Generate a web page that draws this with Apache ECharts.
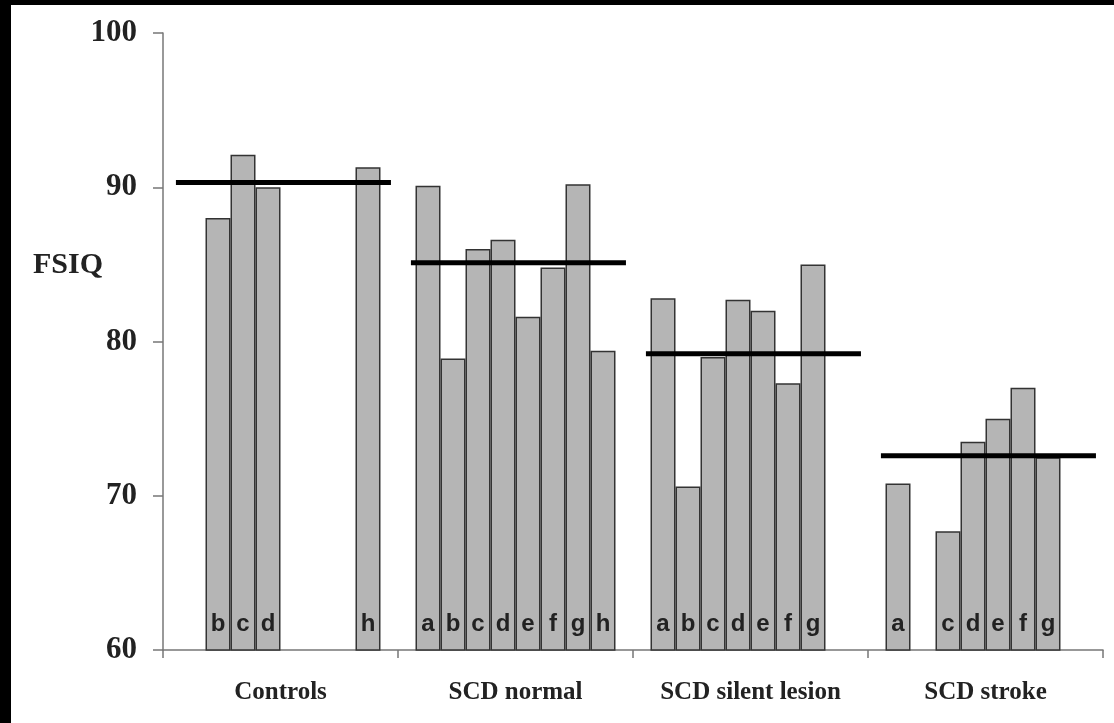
<!DOCTYPE html>
<html>
<head>
<meta charset="utf-8">
<script src="https://cdn.jsdelivr.net/npm/echarts@6/dist/echarts.min.js"></script>
<style>
html,body{margin:0;padding:0;background:#fff;}
#chart{width:1114px;height:723px;}
</style>
</head>
<body>
<div id="chart"></div>
<script>
// ---- data ----
const categories = ['Controls', 'SCD normal', 'SCD silent lesion', 'SCD stroke'];
const subjects = ['a', 'b', 'c', 'd', 'e', 'f', 'g', 'h'];
// values per subject letter across the four groups (null = no bar)
const valA = [null, 90.1, 82.8, 70.8];
const valB = [88.0, 78.9, 70.6, null];
const valC = [92.1, 86.0, 79.0, 67.7];
const valD = [90.0, 86.6, 82.7, 73.5];
const valE = [null, 81.6, 82.0, 75.0];
const valF = [null, 84.8, 77.3, 77.0];
const valG = [null, 90.2, 85.0, 72.5];
const valH = [91.3, 79.4, null, null];
const groupMeans = [90.3, 85.1, 79.2, 72.6];
const yTicks = [60, 70, 80, 90, 100];

const seriesValues = [valA, valB, valC, valD, valE, valF, valG, valH];

const serif = '"Liberation Serif", "Times New Roman", serif';
const sans = '"Liberation Sans", Arial, sans-serif';

const barSeries = subjects.map((s, i) => ({
  name: s,
  type: 'bar',
  xAxisIndex: 0,
  yAxisIndex: 0,
  barGap: '0%',
  barCategoryGap: '14.9%',
  data: seriesValues[i].map(v => v === null ? '-' : v),
  itemStyle: { color: '#b5b5b5', borderColor: '#333', borderWidth: 1.5 },
  label: {
    show: true,
    position: 'insideBottom',
    distance: 14,
    formatter: () => s,
    fontFamily: sans,
    fontWeight: 'bold',
    fontSize: 24,
    color: '#222'
  },
  silent: true
}));

const meanSeries = groupMeans.map((m, i) => ({
  type: 'line',
  xAxisIndex: 1,
  yAxisIndex: 0,
  data: [[i + 0.055, m], [i + 0.97, m]],
  symbol: 'none',
  lineStyle: { color: '#000', width: 5 },
  z: 5,
  silent: true
}));

const chart = echarts.init(document.getElementById('chart'), null, { renderer: 'canvas' });
chart.setOption({
  animation: false,
  backgroundColor: '#fff',
  grid: { left: 163, right: 11, top: 33, bottom: 73, containLabel: false },
  xAxis: [
    {
      type: 'category',
      data: categories,
      axisLine: { lineStyle: { color: '#777', width: 1.5 } },
      axisTick: { show: true, length: 8, lineStyle: { color: '#777', width: 1.5 } },
      axisLabel: { margin: 30, fontFamily: serif, fontWeight: 'bold', fontSize: 25, color: '#222' },
      splitLine: { show: false }
    },
    {
      type: 'value',
      min: 0, max: 4,
      show: false
    }
  ],
  yAxis: {
    type: 'value',
    min: yTicks[0],
    max: yTicks[yTicks.length - 1],
    interval: 10,
    axisLine: { show: true, lineStyle: { color: '#777', width: 1.5 } },
    axisTick: { show: true, length: 10, lineStyle: { color: '#777', width: 1.5 } },
    axisLabel: { margin: 26, fontFamily: serif, fontWeight: 'bold', fontSize: 31, color: '#222' },
    splitLine: { show: false }
  },
  graphic: [
    { type: 'rect', left: 0, top: 0, shape: { width: 11, height: 723 }, style: { fill: '#000' } },
    { type: 'rect', left: 0, top: 0, shape: { width: 1114, height: 5 }, style: { fill: '#000' } },
    { type: 'text', left: 33, top: 250, style: { text: 'FSIQ', fontFamily: serif, fontWeight: 'bold', fontSize: 30, fill: '#222' } }
  ],
  series: [...barSeries, ...meanSeries]
});
</script>
</body>
</html>
